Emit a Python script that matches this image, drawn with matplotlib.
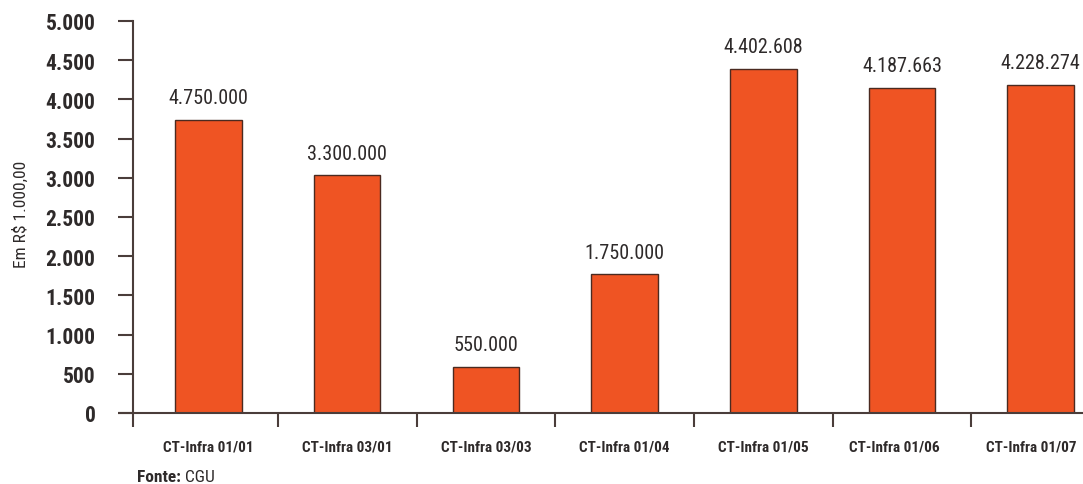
import matplotlib
matplotlib.use("Agg")
import matplotlib.pyplot as plt
import matplotlib.transforms as mtransforms
from matplotlib import font_manager
from matplotlib.ticker import FixedLocator, NullFormatter

categories = ["CT-Infra 01/01", "CT-Infra 03/01", "CT-Infra 03/03", "CT-Infra 01/04",
              "CT-Infra 01/05", "CT-Infra 01/06", "CT-Infra 01/07"]
bar_heights = [3735, 3030, 585, 1770, 4390, 4145, 4185]
bar_labels = ["4.750.000", "3.300.000", "550.000", "1.750.000",
              "4.402.608", "4.187.663", "4.228.274"]
y_ticks = [0, 500, 1000, 1500, 2000, 2500, 3000, 3500, 4000, 4500, 5000]
y_tick_labels = ["0", "500", "1.000", "1.500", "2.000", "2.500", "3.000",
                 "3.500", "4.000", "4.500", "5.000"]

# pick a condensed sans font
entries = font_manager.fontManager.ttflist
names = {f.name for f in entries}
FONT, STRETCH = None, "normal"
for cand in ["Roboto Condensed", "Archivo Narrow", "PT Sans Narrow",
             "Liberation Sans Narrow", "Open Sans Condensed", "IBM Plex Sans Condensed"]:
    if cand in names:
        FONT = cand
        break
if FONT is None:
    for cand in ["Roboto", "Open Sans", "DejaVu Sans"]:
        if any(f.name == cand and f.stretch in ("condensed", "semi-condensed") for f in entries):
            FONT, STRETCH = cand, "condensed"
            break
if FONT is None:
    FONT, STRETCH = "DejaVu Sans", "condensed"
plt.rcParams["font.family"] = [FONT, "DejaVu Sans"]

AX_COL = "#4a3d3a"
BAR_COL = "#ef5423"
TXT_COL = "#2e2a2a"

fig = plt.figure(figsize=(10.83, 4.85), dpi=100)
ax = fig.add_axes([133 / 1083, 71 / 485, 1 - 133 / 1083, (414 - 22) / 485])

x = list(range(len(categories)))
ax.bar(x, bar_heights, width=0.48, color=BAR_COL, edgecolor="#4a2a20", linewidth=1.0, zorder=3)

xleft = (133 - 208.5) / 138.7
xright = (1083 - 208.5) / 138.7
ax.set_xlim(xleft, xright)
ax.set_ylim(0, 5000)

for xi, h, lab in zip(x, bar_heights, bar_labels):
    ax.annotate(lab, (xi, h), xytext=(0, 16), textcoords="offset points",
                ha="center", va="center", fontsize=14.5, color=TXT_COL,
                fontstretch=STRETCH)

for s in ["top", "right", "bottom"]:
    ax.spines[s].set_visible(False)
ax.spines["left"].set_color(AX_COL)
ax.spines["left"].set_linewidth(1.5)
ax.plot([xleft - 15 / 138.7, xright], [0, 0], color=AX_COL, lw=1.5,
        clip_on=False, zorder=4, solid_capstyle="butt")

ax.set_yticks(y_ticks)
ax.set_yticklabels(y_tick_labels, fontsize=15.5, fontweight="bold", color=TXT_COL,
                   fontstretch=STRETCH)
ax.tick_params(axis="y", length=11, width=1.5, color=AX_COL, pad=16)

ax.set_xticks(x)
ax.set_xticklabels(categories, fontsize=11, fontweight="bold", color=TXT_COL,
                   fontstretch=STRETCH)
ax.tick_params(axis="x", which="major", length=0, pad=19)
ax.xaxis.set_minor_locator(FixedLocator([xleft] + [i + 0.5 for i in range(6)]))
ax.xaxis.set_minor_formatter(NullFormatter())
ax.tick_params(axis="x", which="minor", length=10, width=1.5, color=AX_COL)

# nudge the last two category labels slightly left, as in the source layout
xlabels = ax.get_xticklabels()
for lbl, dx in ((xlabels[-2], -8), (xlabels[-1], -9)):
    lbl.set_transform(lbl.get_transform() +
                      mtransforms.ScaledTranslation(dx / 100, 0, fig.dpi_scale_trans))

ax.set_ylabel("Em R$ 1.000,00", fontsize=12.5, color=TXT_COL,
              fontstretch=STRETCH)
ax.yaxis.set_label_coords(-0.1096, 0.51)

t1 = fig.text(137 / 1083, 1 - 478 / 485, "Fonte:", fontsize=12.5, fontweight="bold",
              color=TXT_COL, va="center", ha="left", fontstretch=STRETCH)
fig.canvas.draw()
bb = t1.get_window_extent(renderer=fig.canvas.get_renderer())
fig.text((bb.x1 + 4) / 1083, 1 - 478 / 485, "CGU", fontsize=12.5, color=TXT_COL,
         va="center", ha="left", fontstretch=STRETCH)

fig.savefig("out.png", dpi=100)
